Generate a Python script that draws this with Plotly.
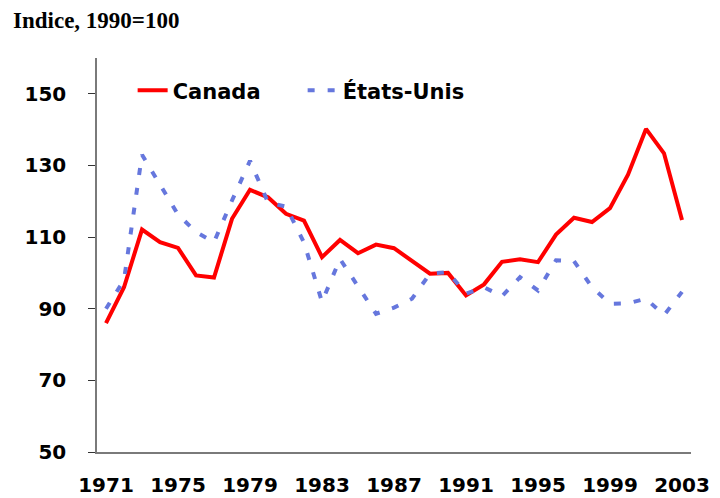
import plotly.graph_objects as go

years = list(range(1971, 2004))
canada = [86.0, 96.0, 112.1, 108.6, 107.0, 99.3, 98.7, 115.1, 123.2, 121.1,
          116.5, 114.6, 104.4, 109.2, 105.5, 107.9, 106.9, 103.5, 99.8, 100.0,
          93.7, 96.8, 103.1, 103.8, 103.0, 110.7, 115.4, 114.2, 118.1, 127.4,
          140.2, 133.4, 114.8]
etats_unis = [90.0, 98.0, 133.0, 124.5, 116.3, 111.4, 108.6, 120.2, 131.3, 119.7,
              118.5, 108.5, 91.9, 103.9, 96.5, 88.6, 90.3, 92.8, 99.8, 100.2,
              94.2, 96.0, 93.5, 98.8, 95.1, 103.5, 103.3, 96.0, 91.4, 91.5,
              92.8, 88.2, 94.7]
x_tick_years = [1971, 1975, 1979, 1983, 1987, 1991, 1995, 1999, 2003]
x_tick_labels = [str(y) for y in x_tick_years]
y_ticks = [50, 70, 90, 110, 130, 150]

FONT = "DejaVu Sans"
AXIS_COLOR = "#7a7a7a"

fig = go.Figure()
fig.add_trace(go.Scatter(x=years, y=canada, name="Canada", mode="lines",
                         line=dict(color="#ff0000", width=4)))
fig.add_trace(go.Scatter(x=years, y=etats_unis, name="États-Unis", mode="lines",
                         line=dict(color="#6677dd", width=4, dash="7px,13px")))

x_range = [years[0] - 0.5, years[-1] + 0.5]
boundaries = [y - 0.5 for y in range(years[0], years[-1], 4)]

# The page body adds an 8px offset; margins below compensate for it.
fig.update_layout(
    width=720, height=498,
    margin=dict(l=89, r=37, t=50, b=54, autoexpand=False),
    paper_bgcolor="white", plot_bgcolor="white",
    title=dict(text="<b>Indice, 1990=100</b>", xref="container", yref="container",
               x=5 / 720, y=1 - 12 / 498, xanchor="left", yanchor="middle",
               font=dict(family="Liberation Serif", size=23, color="black")),
    xaxis=dict(range=x_range, tickvals=x_tick_years, ticktext=x_tick_labels,
               ticks="", showgrid=False, zeroline=False, automargin=False,
               showline=True, linecolor=AXIS_COLOR, linewidth=1.5,
               tickfont=dict(family=FONT, size=20, color="black", weight="bold"),
               ticklabelstandoff=14),
    xaxis2=dict(range=x_range, matches="x", overlaying="x", anchor="y", side="bottom",
                tickvals=boundaries, ticks="outside", ticklen=7, tickwidth=1.2,
                tickcolor="#333", showticklabels=False, showgrid=False,
                zeroline=False, showline=False),
    yaxis=dict(range=[50, 160], tickvals=y_ticks, ticks="outside", ticklen=7,
               tickwidth=1.2, tickcolor="#333", showgrid=False, zeroline=False,
               showline=True, linecolor=AXIS_COLOR, linewidth=1.5, automargin=False,
               tickfont=dict(family=FONT, size=20, color="black", weight="bold"),
               ticklabelstandoff=18),
    legend=dict(orientation="h", x=0.06, y=0.917, xanchor="left", yanchor="middle",
                bgcolor="rgba(0,0,0,0)", entrywidth=125,
                font=dict(family=FONT, size=21, color="black", weight="bold")),
    showlegend=True,
)

fig.write_html("out.html")
